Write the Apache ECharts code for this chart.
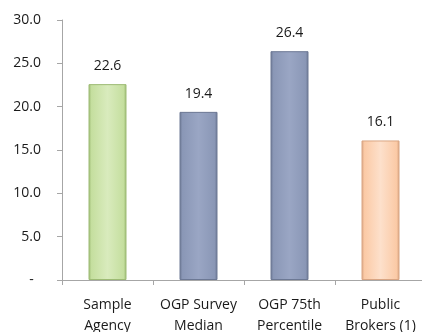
<!DOCTYPE html>
<html>
<head>
<meta charset="utf-8">
<script src="https://cdn.jsdelivr.net/npm/echarts@6/dist/echarts.min.js"></script>
<style>
  html, body { margin: 0; padding: 0; background: #ffffff; }
  #chart { width: 422px; height: 332px; }
</style>
</head>
<body>
<div id="chart"></div>
<script>
// Categories and values
var categories = ['Sample\nAgency', 'OGP Survey\nMedian', 'OGP 75th\nPercentile', 'Public\nBrokers (1)'];
var values = [22.6, 19.4, 26.4, 16.1];
var yTicks = [0, 5, 10, 15, 20, 25, 30];

// Bar fill palettes: [light centre, body, border]
var palettes = [
  ['#d9ebbd', '#c5df9f', '#9dbb74'],
  ['#9aa6c4', '#8a97b6', '#6c7894'],
  ['#9aa6c4', '#8a97b6', '#6c7894'],
  ['#fde0cb', '#fbcaa6', '#d9a583']
];

function barStyle(p) {
  return {
    color: new echarts.graphic.LinearGradient(0, 0, 1, 0, [
      { offset: 0, color: p[2] },
      { offset: 0.08, color: p[1] },
      { offset: 0.5, color: p[0] },
      { offset: 0.92, color: p[1] },
      { offset: 1, color: p[2] }
    ]),
    borderColor: p[2],
    borderWidth: 1
  };
}

var chart = echarts.init(document.getElementById('chart'), null, { renderer: 'canvas' });
var font = '"Open Sans", sans-serif';

chart.setOption({
  animation: false,
  grid: {
    left: 62, top: 20, width: 364, height: 260,
    containLabel: false,
    outerBoundsMode: 'none'
  },
  xAxis: {
    type: 'category',
    data: categories,
    axisLine: { lineStyle: { color: '#a6a6a6', width: 1 } },
    axisTick: { show: true, length: 5, lineStyle: { color: '#a6a6a6' } },
    axisLabel: { color: '#1a1a1a', fontSize: 14, fontFamily: font, margin: 15, lineHeight: 21, interval: 0 }
  },
  yAxis: {
    type: 'value',
    min: yTicks[0],
    max: yTicks[yTicks.length - 1],
    interval: 5,
    axisLine: { show: true, lineStyle: { color: '#a6a6a6', width: 1 } },
    axisTick: { show: true, length: 5, lineStyle: { color: '#a6a6a6' } },
    splitLine: { show: false },
    axisLabel: {
      color: '#1a1a1a', fontSize: 14, fontFamily: font, margin: 21,
      formatter: function (v) { return v === 0 ? '-  ' : v.toFixed(1); }
    }
  },
  series: [{
    type: 'bar',
    barWidth: 38,
    data: values.map(function (v, i) {
      return { value: v, itemStyle: barStyle(palettes[i]) };
    }),
    label: {
      show: true,
      position: 'top',
      distance: 11,
      color: '#1a1a1a',
      fontSize: 14,
      fontFamily: font,
      formatter: function (p) { return p.value.toFixed(1); }
    }
  }]
});
</script>
</body>
</html>
